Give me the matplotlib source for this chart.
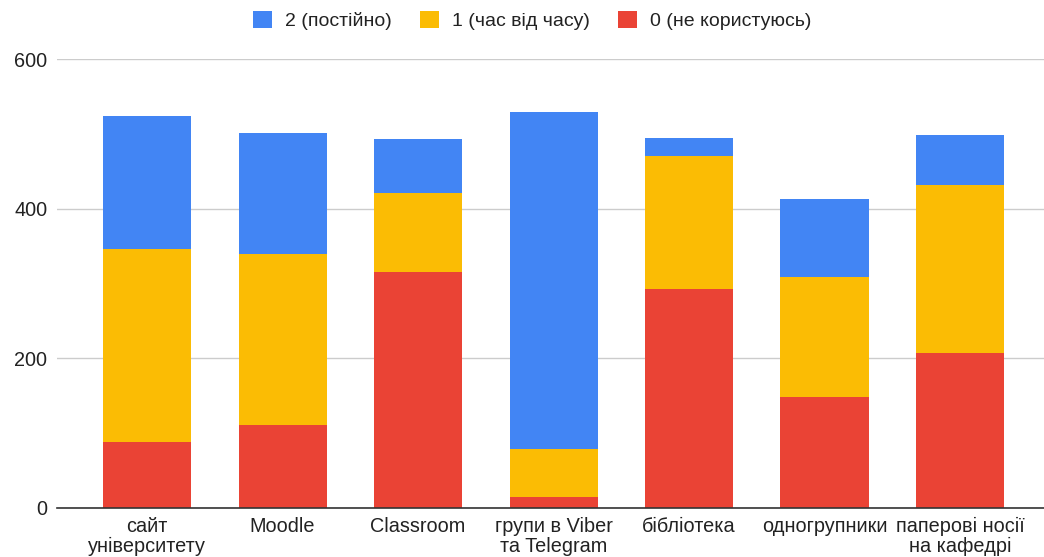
import matplotlib
matplotlib.use("Agg")
import matplotlib.pyplot as plt
import numpy as np

categories = ["сайт\nуніверситету", "Moodle", "Classroom", "групи в Viber\nта Telegram",
              "бібліотека", "одногрупники", "паперові носії\nна кафедрі"]
never = [88, 111, 315, 14, 293, 148, 207]          # 0 (не користуюсь)
sometimes = [258, 228, 106, 65, 178, 160, 224]     # 1 (час від часу)
always = [178, 162, 72, 450, 24, 105, 68]          # 2 (постійно)
yticks = [0, 200, 400, 600]

plt.rcParams['font.family'] = ['Liberation Sans', 'DejaVu Sans']

fig = plt.figure(figsize=(10.44, 5.57), dpi=100)
ax = fig.add_axes([0.0546, 0.0885, 0.9454, 0.8055])

x = np.arange(len(categories))
w = 0.65
c_red, c_yel, c_blue = "#EA4335", "#FBBC04", "#4285F4"
never = np.array(never); sometimes = np.array(sometimes); always = np.array(always)
b0 = ax.bar(x, never, w, color=c_red, label="0 (не користуюсь)", zorder=3)
b1 = ax.bar(x, sometimes, w, bottom=never, color=c_yel, label="1 (час від часу)", zorder=3)
b2 = ax.bar(x, always, w, bottom=never + sometimes, color=c_blue, label="2 (постійно)", zorder=3)

ax.set_xlim(-0.665, 6.62)
ax.set_ylim(0, 600)
ax.set_yticks(yticks)
ax.set_yticklabels([str(t) for t in yticks])
ax.grid(axis='y', color='#cccccc', linewidth=1, zorder=0)
ax.set_xticks(x)
ax.set_xticklabels(categories, linespacing=1.02)
ax.tick_params(axis='both', length=0, labelsize=14.3, colors='#222222')
ax.tick_params(axis='x', pad=7)
ax.tick_params(axis='y', pad=7)
for s in ['top', 'right', 'left']:
    ax.spines[s].set_visible(False)
ax.spines['bottom'].set_color('#333333')
ax.spines['bottom'].set_linewidth(1.2)
ax.spines['bottom'].set_zorder(4)

handles = [b2, b1, b0]
labels = [h.get_label() for h in handles]
fig.legend(handles, labels, loc='upper center', bbox_to_anchor=(0.5096, 1.012), ncol=3,
           frameon=False, fontsize=14, handlelength=1.0, handleheight=1.0,
           handletextpad=0.65, columnspacing=1.45, labelcolor='#222222')

fig.savefig("out.png", dpi=100)
